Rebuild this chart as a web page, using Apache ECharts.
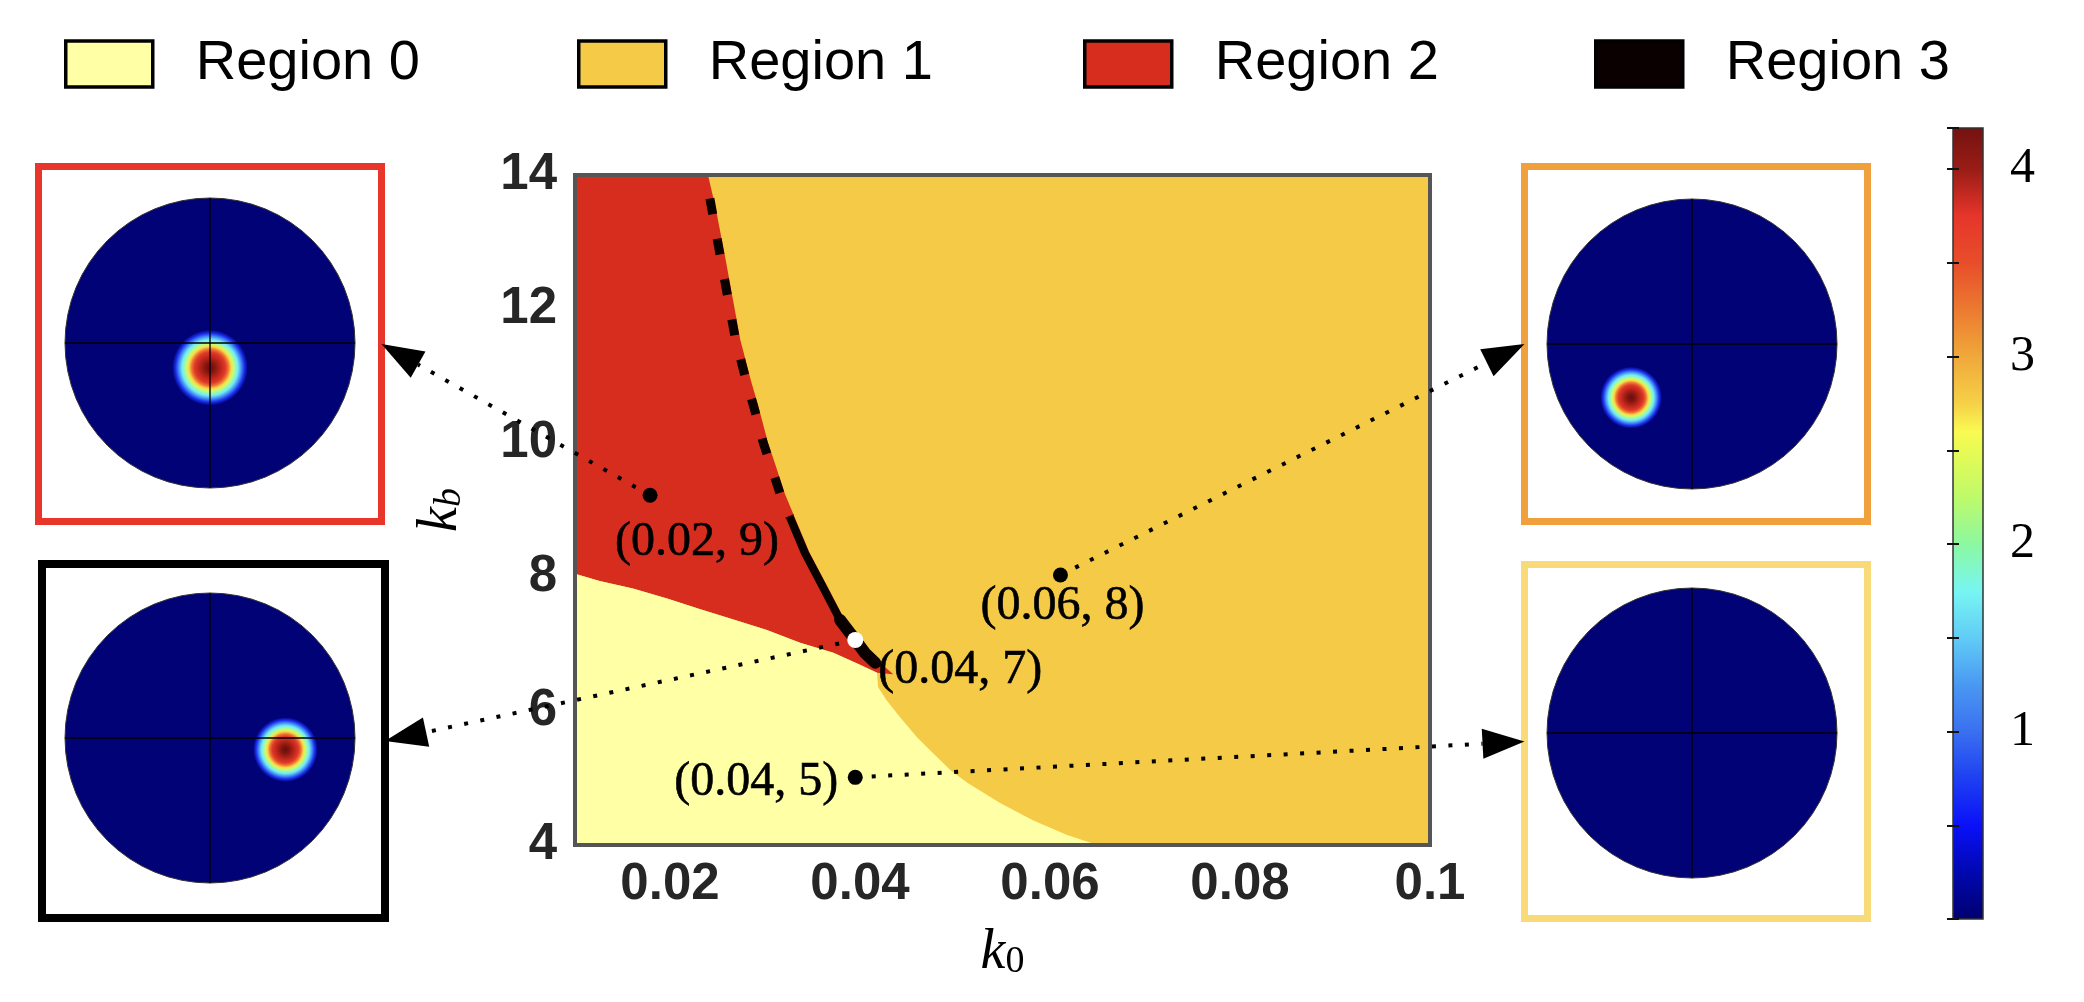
<!DOCTYPE html>
<html><head><meta charset="utf-8">
<script src="https://cdn.jsdelivr.net/npm/echarts@6/dist/echarts.min.js"></script>
<style>html,body{margin:0;padding:0;background:#fff}#c{width:2084px;height:1002px}</style>
</head><body><div id="c"></div>
<script>
// ---------- data ----------
const xTickValues = [0.02, 0.04, 0.06, 0.08, 0.1];
const xTickLabels = ['0.02', '0.04', '0.06', '0.08', '0.1'];
const yTickLabels = ['4', '6', '8', '10', '12', '14'];
const cbTickValues = [1, 2, 3, 4];
const regionNames = ['Region 0', 'Region 1', 'Region 2', 'Region 3'];

// whole domain (region 1 background)
const domainX = [0.01, 0.1, 0.1, 0.01];
const domainY = [4, 4, 14, 14];
// boundary red(2) / orange(1), top -> bottom
const bRedOrangeX = [0.0240, 0.0248, 0.0258, 0.0266, 0.0274, 0.0285, 0.0293, 0.0303, 0.0311, 0.0321, 0.0331, 0.0347, 0.0366, 0.0384, 0.0400, 0.0410, 0.0421, 0.0435];
const bRedOrangeY = [14, 13.51, 12.78, 12.16, 11.54, 10.94, 10.55, 10.01, 9.67, 9.24, 8.90, 8.36, 7.85, 7.36, 7.06, 6.87, 6.72, 6.55];
// boundary red(2) / yellow(0), left -> right
const bRedYellowX = [0.01, 0.0126, 0.0161, 0.0197, 0.0232, 0.0266, 0.0302, 0.0337, 0.0372, 0.0400, 0.0418];
const bRedYellowY = [8.05, 7.94, 7.83, 7.68, 7.52, 7.37, 7.21, 7.02, 6.87, 6.69, 6.57];
// boundary yellow(0) / orange(1), top -> bottom
const bYellowOrangeX = [0.0418, 0.0419, 0.0428, 0.0442, 0.0460, 0.0477, 0.0495, 0.0513, 0.0547, 0.0582, 0.0618, 0.0650];
const bYellowOrangeY = [6.57, 6.36, 6.16, 5.91, 5.61, 5.37, 5.12, 4.93, 4.63, 4.37, 4.15, 4.00];
// region 3 (thin black strip)
const r3DashX = [0.0242, 0.0253, 0.0261, 0.0269, 0.0280, 0.0288, 0.0298, 0.0306, 0.0316, 0.0326];
const r3DashY = [13.65, 12.78, 12.16, 11.54, 10.94, 10.55, 10.01, 9.67, 9.24, 8.90];
const r3SolidX = [0.0326, 0.0342, 0.0361, 0.0379];
const r3SolidY = [8.90, 8.36, 7.85, 7.36];
const r3ThickX = [0.0379, 0.0395, 0.0405, 0.0416];
const r3ThickY = [7.36, 7.06, 6.87, 6.72];

// sample points
const ptX = [0.0179, 0.0611, 0.0395, 0.0395];
const ptY = [9.22, 8.03, 7.06, 5.01];
const ptLabels = ['(0.02, 9)', '(0.06, 8)', '(0.04, 7)', '(0.04, 5)'];
const ptTarget = [0, 2, 1, 3];   // which inset each point points to

// inset blobs (unit-disc coordinates), insets: TL, BL, TR, BR
const blobX = [0.0, 0.52, -0.42, null];
const blobY = [-0.17, -0.08, -0.37, null];
const blobRx = [0.26, 0.222, 0.25, 0];
const blobRy = [0.268, 0.27, 0.212, 0];

// colorbar range
const cbMin = 0, cbMax = 4.22;

// ---------- style ----------
const regionColors = ['#FFFFA6', '#F4CA46', '#D62D1F', '#0B0000'];
const legendLeft = [64, 577, 1083, 1594];
const ptColors = ['#000', '#000', '#fff', '#000'];
const ptOffsets = [[47, 47], [2, 31], [105, 30], [-99, 5]];
const blobRot = [0, 0, -0.6, 0];
const R = 145;
const insetLayout = [
  {left: 38.5, top: 166.5, width: 343, height: 355, cx: 210, cy: 343, color: '#E8362A', bw: 7, side: 'right'},
  {left: 42, top: 564, width: 343, height: 354, cx: 210, cy: 738, color: '#000000', bw: 8, side: 'right'},
  {left: 1524.5, top: 166.5, width: 343, height: 355, cx: 1692, cy: 344, color: '#F0A03C', bw: 7, side: 'left'},
  {left: 1524.5, top: 564.5, width: 343, height: 354, cx: 1692, cy: 733, color: '#F8DA78', bw: 7, side: 'left'}
];
const jetStops = [
  [0.000, '#000070'], [0.059, '#0008B0'], [0.118, '#0A10F8'], [0.178, '#1E40F2'],
  [0.237, '#3A70F0'], [0.296, '#4A98F2'], [0.355, '#60CCF6'], [0.415, '#78F6F2'],
  [0.474, '#8CF8A0'], [0.533, '#BEFA6A'], [0.592, '#E8FA55'], [0.616, '#FAFA52'],
  [0.652, '#F6D048'], [0.711, '#F0A83A'], [0.770, '#EC7A30'], [0.829, '#E84E2A'],
  [0.889, '#E6352A'], [0.948, '#9A1C16'], [1.000, '#741210']
];
const blobStops = [
  [0.00, '#6A0E0E'], [0.11, '#7E1410'], [0.27, '#B82418'], [0.41, '#E0382A'],
  [0.49, '#EE7A30'], [0.56, '#F8D84A'], [0.62, '#D0FA66'], [0.68, '#98F8B8'],
  [0.74, '#72ECF6'], [0.82, '#4A98F2'], [0.91, '#1A30F0'], [1.00, '#020277']
];
const SANS = 'Liberation Sans, Arial, sans-serif';
const SERIF = 'Liberation Serif, Times New Roman, serif';

function toStops(arr) { return arr.map(s => ({offset: s[0], color: s[1]})); }
function pts(api, xs, ys) { return xs.map((x, i) => api.coord([x, ys[i]])); }

function polyRender(getPoly, color) {
  return function (params, api) {
    const p = getPoly();
    return {type: 'polygon', shape: {points: pts(api, p[0], p[1])}, style: {fill: color}};
  };
}
const region2Poly = () => [
  [0.01].concat(bRedOrangeX, bRedYellowX.slice().reverse()),
  [14].concat(bRedOrangeY, bRedYellowY.slice().reverse())
];
const region0Poly = () => [
  [0.01].concat(bRedYellowX, bYellowOrangeX.slice(1)),
  [4].concat(bRedYellowY, bYellowOrangeY.slice(1))
];

function region3Render(params, api) {
  const c = regionColors[3];
  return {type: 'group', children: [
    {type: 'polyline', shape: {points: pts(api, r3DashX, r3DashY)},
     style: {stroke: c, lineWidth: 9, lineDash: [16, 25], fill: null, lineCap: 'butt'}},
    {type: 'polyline', shape: {points: pts(api, r3SolidX, r3SolidY)},
     style: {stroke: c, lineWidth: 8, fill: null, lineJoin: 'round'}},
    {type: 'polyline', shape: {points: pts(api, r3ThickX, r3ThickY)},
     style: {stroke: c, lineWidth: 12, fill: null, lineJoin: 'round', lineCap: 'round'}}
  ]};
}

function arrowRender(params, api) {
  const s = api.coord([api.value(0), api.value(1)]);
  const L = insetLayout[ptTarget[params.dataIndex]];
  const tx = L.side === 'right' ? L.left + L.width : L.left;
  const ty = L.top + L.height / 2;
  const dx = tx - s[0], dy = ty - s[1];
  const len = Math.hypot(dx, dy), ux = dx / len, uy = dy / len;
  const bx = tx - ux * 42, by = ty - uy * 42, px = -uy, py = ux;
  return {type: 'group', children: [
    {type: 'line', shape: {x1: s[0], y1: s[1], x2: bx, y2: by},
     style: {stroke: '#000', lineWidth: 4, lineDash: [4, 12.5], lineCap: 'butt'}},
    {type: 'polygon', shape: {points: [[tx, ty], [bx + px * 15, by + py * 15], [bx - px * 15, by - py * 15]]},
     style: {fill: '#000'}}
  ]};
}

function insetRender(k) {
  return function (params, api) {
    const c = api.coord([0, 0]);
    const r = api.size([1, 0])[0];
    const ch = [{type: 'circle', shape: {cx: c[0], cy: c[1], r: r}, style: {fill: '#020277', stroke: '#333', lineWidth: 1}}];
    if (blobX[k] !== null) {
      const b = api.coord([blobX[k], blobY[k]]);
      ch.push({type: 'ellipse', x: b[0], y: b[1], rotation: blobRot[k],
        shape: {cx: 0, cy: 0, rx: blobRx[k] * r, ry: blobRy[k] * r},
        style: {fill: new echarts.graphic.RadialGradient(0.5, 0.5, 0.5, toStops(blobStops))}});
    }
    const a = api.coord([-1, 0]), b2 = api.coord([1, 0]), t = api.coord([0, 1]), d = api.coord([0, -1]);
    ch.push({type: 'line', shape: {x1: a[0], y1: a[1], x2: b2[0], y2: b2[1]}, style: {stroke: '#000', lineWidth: 1.3}});
    ch.push({type: 'line', shape: {x1: t[0], y1: t[1], x2: d[0], y2: d[1]}, style: {stroke: '#000', lineWidth: 1.3}});
    return {type: 'group', children: ch};
  };
}

function cbRender(params, api) {
  const p0 = api.coord([0, cbMax]), p1 = api.coord([1, cbMin]);
  return {type: 'rect', shape: {x: p0[0], y: p0[1], width: p1[0] - p0[0], height: p1[1] - p0[1]},
    style: {fill: new echarts.graphic.LinearGradient(0, 1, 0, 0, toStops(jetStops))}};
}

// ---------- grids & axes ----------
const grids = [
  {left: 575, top: 175, width: 855, height: 670, show: true, borderColor: '#555', borderWidth: 4, z: 3, outerBoundsMode: 'none', containLabel: false}
];
insetLayout.forEach(L => grids.push({left: L.left, top: L.top, width: L.width, height: L.height,
  show: true, borderColor: L.color, borderWidth: L.bw, z: 3, outerBoundsMode: 'none', containLabel: false}));
grids.push({left: 1953, top: 128, width: 30, height: 791, show: true, borderColor: '#333', borderWidth: 1.5, z: 3, outerBoundsMode: 'none', containLabel: false});

const kRich = {
  k: {fontFamily: SERIF, fontStyle: 'italic', fontSize: 56, lineHeight: 56, verticalAlign: 'bottom', color: '#000'},
  s: {fontFamily: SERIF, fontSize: 38, lineHeight: 20, verticalAlign: 'bottom', color: '#000'},
  si: {fontFamily: SERIF, fontStyle: 'italic', fontSize: 38, lineHeight: 20, verticalAlign: 'bottom', color: '#000'}
};

const xAxes = [{
  gridIndex: 0, type: 'value', min: 0.01, max: 0.1, interval: 0.01,
  name: '{k|k}{s|0}', nameLocation: 'middle', nameGap: 80, nameMoveOverlap: false,
  nameTextStyle: {rich: kRich},
  axisLine: {show: false}, axisTick: {show: false}, splitLine: {show: false},
  axisLabel: {show: true, showMinLabel: true, showMaxLabel: true, margin: 14, fontFamily: SANS, fontWeight: 'bold', fontSize: 51, color: '#262626',
    formatter: v => { const i = xTickValues.findIndex(t => Math.abs(t - v) < 1e-9); return i >= 0 ? xTickLabels[i] : ''; }}
}];
const yAxes = [{
  gridIndex: 0, type: 'value', min: 4, max: 14, interval: 2,
  name: '{k|k}{si|b}', nameLocation: 'middle', nameGap: 106, nameMoveOverlap: false,
  nameTextStyle: {rich: kRich},
  axisLine: {show: false}, axisTick: {show: false}, splitLine: {show: false},
  axisLabel: {margin: 18, fontFamily: SANS, fontWeight: 'bold', fontSize: 51, color: '#262626',
    formatter: v => yTickLabels.indexOf(String(v)) >= 0 ? String(v) : ''}
}];
insetLayout.forEach((L, k) => {
  xAxes.push({gridIndex: k + 1, type: 'value', show: false, min: -(L.cx - L.left) / R, max: (L.left + L.width - L.cx) / R});
  yAxes.push({gridIndex: k + 1, type: 'value', show: false, min: -(L.top + L.height - L.cy) / R, max: (L.cy - L.top) / R});
});
xAxes.push({gridIndex: 5, type: 'value', show: false, min: 0, max: 1});
const cbFormatter = v => { const i = cbTickValues.findIndex(t => Math.abs(t - v) < 1e-9); return i >= 0 ? String(cbTickValues[i]) : ''; };
yAxes.push({gridIndex: 5, type: 'value', position: 'right', min: cbMin, max: cbMax, interval: 0.5, z: 5,
  axisLine: {show: false}, splitLine: {show: false},
  axisTick: {show: true, inside: true, length: 6, lineStyle: {color: '#111', width: 2}},
  axisLabel: {showMinLabel: true, showMaxLabel: true, margin: 27, fontFamily: SERIF, fontSize: 50, color: '#000', formatter: cbFormatter}});
yAxes.push({gridIndex: 5, type: 'value', position: 'left', min: cbMin, max: cbMax, interval: 0.5, z: 5,
  axisLine: {show: false}, splitLine: {show: false},
  axisTick: {show: true, inside: true, length: 6, lineStyle: {color: '#111', width: 2}},
  axisLabel: {show: false}});

// ---------- series ----------
const series = [
  {type: 'custom', name: 'Region 1', xAxisIndex: 0, yAxisIndex: 0, z: 1, data: [[domainX[0], domainY[0]]],
   renderItem: polyRender(() => [domainX, domainY], regionColors[1]), itemStyle: {color: regionColors[1]}},
  {type: 'custom', name: 'Region 2', xAxisIndex: 0, yAxisIndex: 0, z: 2, data: [[0.01, 14]],
   renderItem: polyRender(region2Poly, regionColors[2]), itemStyle: {color: regionColors[2]}},
  {type: 'custom', name: 'Region 0', xAxisIndex: 0, yAxisIndex: 0, z: 2, data: [[0.01, 4]],
   renderItem: polyRender(region0Poly, regionColors[0]), itemStyle: {color: regionColors[0]}},
  {type: 'custom', name: 'Region 3', xAxisIndex: 0, yAxisIndex: 0, z: 2, data: [[r3DashX[0], r3DashY[0]]],
   renderItem: region3Render, itemStyle: {color: regionColors[3]}},
  {type: 'custom', name: 'arrows', xAxisIndex: 0, yAxisIndex: 0, z: 8, clip: false,
   data: ptX.map((x, i) => [x, ptY[i]]), renderItem: arrowRender},
  {type: 'scatter', name: 'points', xAxisIndex: 0, yAxisIndex: 0, z: 10, symbol: 'circle',
   itemStyle: {opacity: 1},
   data: ptX.map((x, i) => ({
     value: [x, ptY[i]], symbolSize: i === 2 ? 16 : 15, itemStyle: {color: ptColors[i], opacity: 1},
     label: {show: true, position: 'inside', offset: ptOffsets[i], formatter: ptLabels[i],
       fontFamily: SERIF, fontSize: 48, color: '#000', textBorderColor: '#000', textBorderWidth: 0.6}
   }))}
];
insetLayout.forEach((L, k) => series.push({type: 'custom', name: 'inset' + k, xAxisIndex: k + 1, yAxisIndex: k + 1,
  z: 2, data: [[0, 0]], renderItem: insetRender(k)}));
series.push({type: 'custom', name: 'colorbar', xAxisIndex: 5, yAxisIndex: 5, z: 2, data: [[0, cbMin]], renderItem: cbRender});

const legends = regionNames.map((n, i) => ({
  data: [{name: n, icon: 'rect', itemStyle: {color: regionColors[i], borderColor: '#000', borderWidth: 3.5}}],
  left: legendLeft[i], top: 36, orient: 'horizontal', padding: 0,
  itemWidth: 87, itemHeight: 46, selectedMode: false,
  textStyle: {fontFamily: SANS, fontSize: 56, color: '#000', padding: [0, 0, 0, 38]}
}));

const chart = echarts.init(document.getElementById('c'), null, {renderer: 'canvas'});
chart.setOption({
  animation: false,
  backgroundColor: '#fff',
  legend: legends,
  grid: grids,
  xAxis: xAxes,
  yAxis: yAxes,
  series: series
});
</script></body></html>
